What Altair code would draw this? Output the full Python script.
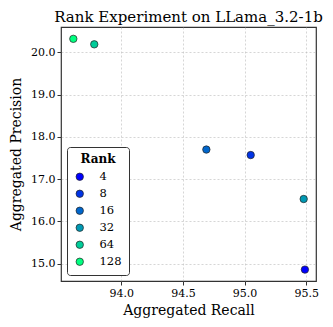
import altair as alt
import pandas as pd

ranks = [4, 8, 16, 32, 64, 128]
recall = [95.49, 95.05, 94.69, 95.48, 93.78, 93.61]
precision = [14.86, 17.57, 17.70, 16.53, 20.19, 20.32]
colors = ["#0000ff", "#0033e6", "#0066cc", "#0099b3", "#00cc99", "#00ff80"]

df = pd.DataFrame({"Rank": ranks, "Recall": recall, "Precision": precision})

FONT = "DejaVu Serif"

chart = alt.Chart(df).mark_point(
    filled=True, size=55, stroke="#222222", strokeWidth=0.7, opacity=1
).encode(
    x=alt.X("Recall:Q", title="Aggregated Recall",
            scale=alt.Scale(domain=[93.51, 95.58], nice=False, zero=False),
            axis=alt.Axis(values=[94.0, 94.5, 95.0, 95.5], format=".1f", titlePadding=5)),
    y=alt.Y("Precision:Q", title="Aggregated Precision",
            scale=alt.Scale(domain=[14.59, 20.6], nice=False, zero=False),
            axis=alt.Axis(values=[15, 16, 17, 18, 19, 20], format=".1f", titlePadding=7)),
    color=alt.Color("Rank:O", scale=alt.Scale(domain=ranks, range=colors),
                    legend=alt.Legend(title="Rank", orient="bottom-left",
                                      offset=6, fillColor="white",
                                      strokeColor="#333333", cornerRadius=3,
                                      padding=7, symbolStrokeColor="#222222",
                                      symbolStrokeWidth=0.7, symbolSize=55,
                                      titleAnchor="middle", rowPadding=4,
                                      labelOffset=14)),
).properties(
    width=255, height=254,
    title=alt.Title("Rank Experiment on LLama_3.2-1b", font=FONT, fontSize=15,
                    fontWeight="normal", color="black", offset=2),
    autosize=alt.AutoSizeParams(type="none"),
    padding={"left": 53, "top": 19, "right": 9, "bottom": 38},
).configure_view(
    stroke="#333333", strokeWidth=1.2
).configure_axis(
    labelFont=FONT, titleFont=FONT, labelFontSize=11, titleFontSize=14,
    titleFontWeight="normal", labelColor="black", titleColor="black",
    grid=True, gridDash=[2, 2], gridColor="#bbbbbb", gridWidth=0.6,
    domain=False, tickColor="#333333", tickSize=4, labelPadding=2
).configure_legend(
    titleFont=FONT, labelFont=FONT, titleFontSize=12, labelFontSize=11.5,
    titleFontWeight="bold", labelColor="black", titleColor="black"
)

chart.save("out.html", embed_options={"renderer": "svg", "actions": False})
